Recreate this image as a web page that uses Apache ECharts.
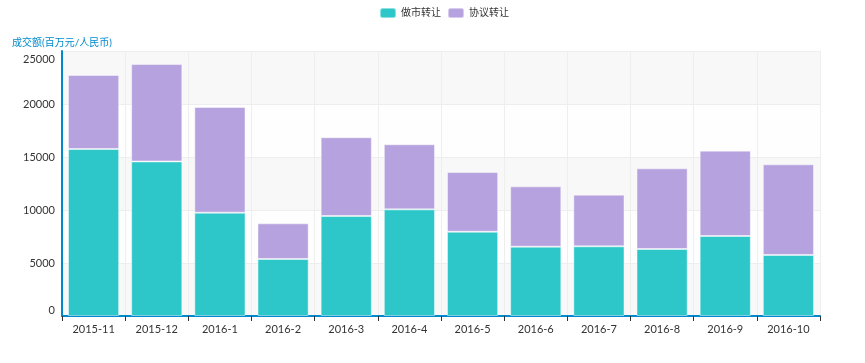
<!DOCTYPE html>
<html>
<head>
<meta charset="utf-8">
<script src="https://cdn.jsdelivr.net/npm/echarts@6/dist/echarts.min.js"></script>
<style>html,body{margin:0;padding:0;background:#fff;}#c{width:865px;height:363px;}</style>
</head>
<body>
<div id="c"></div>
<script>
var categories = ['2015-11','2015-12','2016-1','2016-2','2016-3','2016-4','2016-5','2016-6','2016-7','2016-8','2016-9','2016-10'];
var marketMaking = [15750, 14580, 9750, 5380, 9430, 10060, 7950, 6540, 6570, 6320, 7550, 5760];
var agreement = [6990, 9190, 9970, 3360, 7430, 6140, 5640, 5690, 4880, 7610, 8050, 8550];
var seriesNames = ['做市转让', '协议转让'];
var yTicks = [0, 5000, 10000, 15000, 20000, 25000];

var font = 'Lato, "Noto Sans CJK SC", sans-serif';
var chart = echarts.init(document.getElementById('c'));
chart.setOption({
  animation: false,
  color: ['#2ec7c9', '#b6a2de'],
  textStyle: { fontFamily: font },
  legend: {
    top: 2, left: 374,
    itemWidth: 16, itemHeight: 10, itemGap: 6,
    icon: 'roundRect',
    textStyle: { fontSize: 10, color: '#333', fontFamily: font },
    data: seriesNames
  },
  grid: { left: 62, right: 45, top: 51, bottom: 47 },
  xAxis: {
    type: 'category',
    data: categories,
    axisLine: { lineStyle: { color: '#008acd', width: 2 } },
    axisTick: { show: true, length: 5, lineStyle: { color: '#333' } },
    axisLabel: { color: '#333', fontSize: 11, margin: 8, fontFamily: font },
    splitLine: { show: true, lineStyle: { color: '#eee' } }
  },
  yAxis: {
    type: 'value',
    min: yTicks[0], max: yTicks[yTicks.length - 1], interval: 5000,
    name: '成交额(百万元/人民币)',
    nameLocation: 'end',
    nameGap: 3,
    nameTextStyle: { color: '#008acd', fontSize: 10, align: 'left', padding: [0, 0, 0, -50], fontFamily: font },
    axisLine: { show: true, lineStyle: { color: '#008acd', width: 2 } },
    axisTick: { show: false },
    axisLabel: {
      color: '#333', fontSize: 11, margin: 7, fontFamily: font,
      formatter: function (v) {
        if (v === yTicks[yTicks.length - 1]) return '{t|' + v + '}';
        if (v === yTicks[0]) return '{b|' + v + '}';
        return String(v);
      },
      rich: {
        t: { padding: [16, 0, 0, 0], fontSize: 11, color: '#333', fontFamily: font },
        b: { padding: [0, 0, 12, 0], fontSize: 11, color: '#333', fontFamily: font }
      }
    },
    splitLine: { show: true, lineStyle: { color: '#eee' } },
    splitArea: { show: true, areaStyle: { color: ['#f8f8f8', '#fefefe'] } }
  },
  series: [
    {
      name: seriesNames[0], type: 'bar', stack: 'total',
      barCategoryGap: '19%',
      itemStyle: { borderColor: 'rgba(255,255,255,0.45)', borderWidth: 1 },
      data: marketMaking
    },
    {
      name: seriesNames[1], type: 'bar', stack: 'total',
      barCategoryGap: '19%',
      itemStyle: { borderColor: 'rgba(255,255,255,0.45)', borderWidth: 1 },
      data: agreement
    }
  ]
});
</script>
</body>
</html>
